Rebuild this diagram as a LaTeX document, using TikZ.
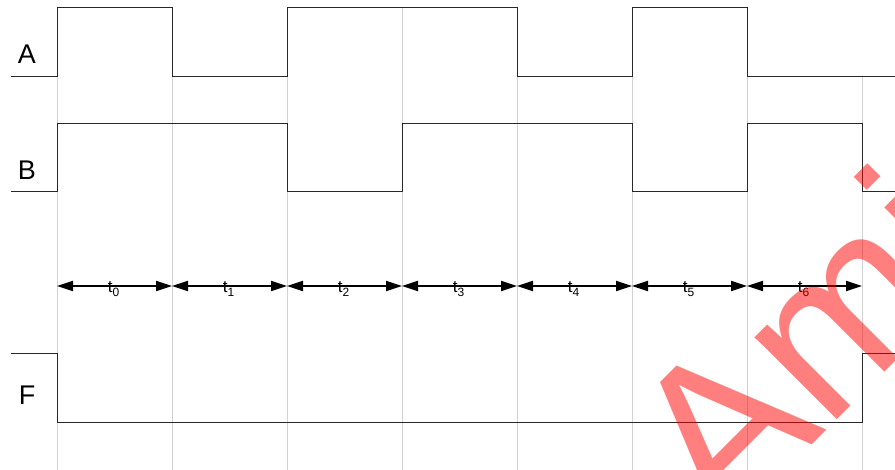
\documentclass[tikz,border=0pt]{standalone}
\usepackage{fontspec}
\setmainfont{Liberation Sans}
\usetikzlibrary{arrows.meta}
\definecolor{gridgray}{RGB}{210,210,210}
\definecolor{sigline}{RGB}{40,40,40}
\newcommand{\sigwidth}{1pt}
\newcommand{\tsub}[1]{t\raisebox{-4pt}{\fontsize{12}{12}\selectfont #1}}

\begin{document}
\begin{tikzpicture}[x=1pt,y=-1pt,
  grid/.style={draw=gridgray, line width=1pt},
  wave/.style={draw=sigline, line width=\sigwidth},
  period/.style={{Triangle[length=16pt,width=10pt]}-{Triangle[length=16pt,width=10pt]}, line width=1.8pt},
  tlabel/.style={anchor=base, font=\fontsize{17}{17}\selectfont, inner sep=0pt},
  siglabel/.style={anchor=base, font=\fontsize{27}{27}\selectfont, inner sep=0pt}]
\useasboundingbox (0,0) rectangle (895,470);
    % timing of A, B and F
\coordinate (g0) at (57,286);
\coordinate (g1) at (172,286);
\coordinate (g2) at (287,286);
\coordinate (g3) at (402,286);
\coordinate (g4) at (517,286);
\coordinate (g5) at (632,286);
\coordinate (g6) at (747,286);
\coordinate (g7) at (862,286);

\draw[grid] (57,8) -- (57,470);
\draw[grid] (172,8) -- (172,470);
\draw[grid] (287,8) -- (287,470);
\draw[grid] (402,8) -- (402,470);
\draw[grid] (517,8) -- (517,470);
\draw[grid] (632,8) -- (632,470);
\draw[grid] (747,8) -- (747,470);
\draw[grid] (862,77) -- (862,470);

\node (la) at (27,64) [siglabel] {A};
\node (lb) at (27,180) [siglabel] {B};
\node (lf) at (27,405) [siglabel] {F};

\draw[wave]
(11,77) -- (57,77) -- (57,8) -- (172,8) -- (172,77) -- (287,77) -- (287,8)
-- (517,8) -- (517,77) -- (632,77) -- (632,8) -- (747,8) -- (747,77) -- (895,77);
\draw[wave]
(11,192) -- (57,192) -- (57,124) -- (287,124) -- (287,192) -- (402,192) -- (402,124)
-- (632,124) -- (632,192) -- (747,192) -- (747,124) -- (862,124) -- (862,192) -- (895,192);
\draw[wave]
(11,354) -- (57,354) -- (57,423) -- (862,423) -- (862,354) -- (895,354);

\draw[period] (g0) -- (g1) node (t0) [midway, xshift=-1pt, yshift=-7pt, tlabel] {\tsub{0}};
\draw[period] (g1) -- (g2) node (t1) [midway, xshift=-1pt, yshift=-7pt, tlabel] {\tsub{1}};
\draw[period] (g2) -- (g3) node (t2) [midway, xshift=-1pt, yshift=-7pt, tlabel] {\tsub{2}};
\draw[period] (g3) -- (g4) node (t3) [midway, xshift=-1pt, yshift=-7pt, tlabel] {\tsub{3}};
\draw[period] (g4) -- (g5) node (t4) [midway, xshift=-1pt, yshift=-7pt, tlabel] {\tsub{4}};
\draw[period] (g5) -- (g6) node (t5) [midway, xshift=-1pt, yshift=-7pt, tlabel] {\tsub{5}};
\draw[period] (g6) -- (g7) node (t6) [midway, xshift=-1pt, yshift=-7pt, tlabel] {\tsub{6}};

\begin{scope}
\clip (0,0) rectangle (895,470);
\node (mark) at (723,534) [rotate=45, anchor=base west, inner sep=0pt, text=red, text opacity=0.5,
  font=\fontsize{220}{220}\selectfont] {Ami};
\end{scope}
  \end{tikzpicture}
\end{document}
